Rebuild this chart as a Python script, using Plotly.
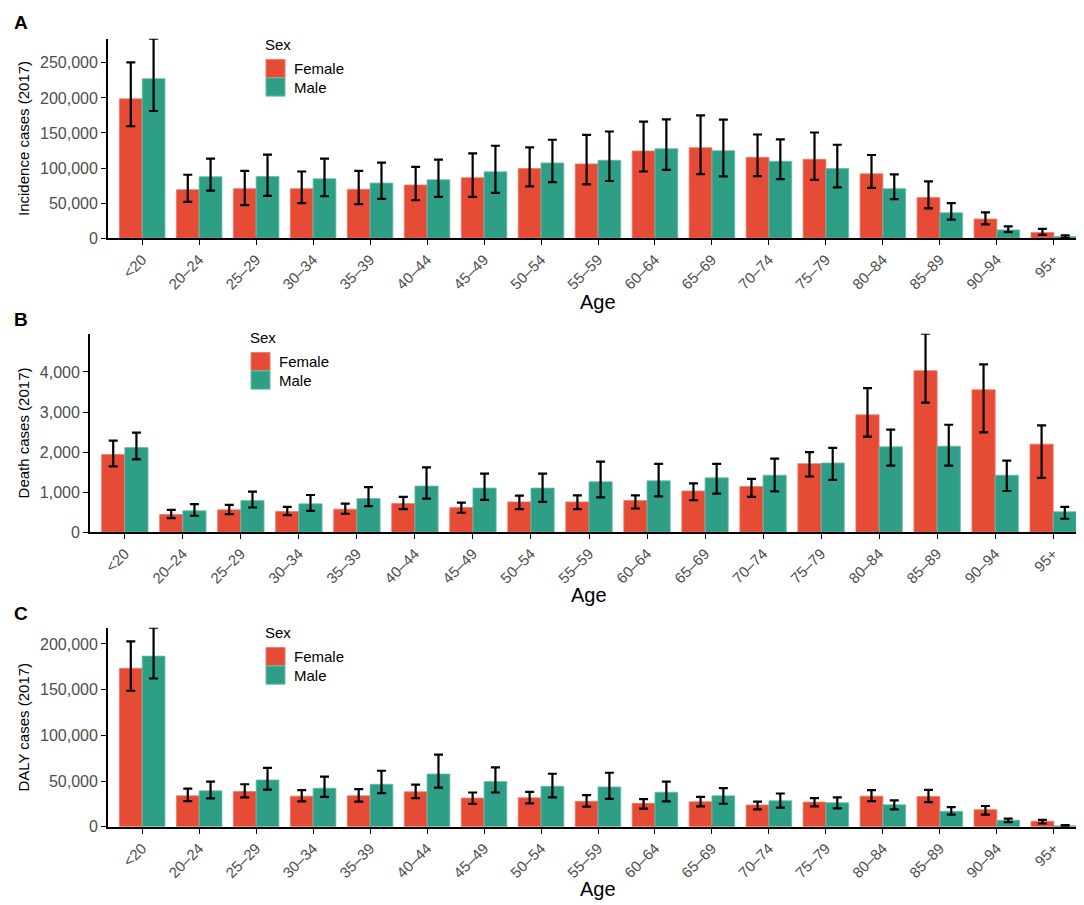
import plotly.graph_objects as go

### DADOS
idades = ["<20", "20–24", "25–29", "30–34", "35–39", "40–44", "45–49", "50–54", "55–59",
          "60–64", "65–69", "70–74", "75–79", "80–84", "85–89", "90–94", "95+"]
sexos = ["Female", "Male"]

# A - incidencia
inc_fem = [198700, 69200, 70600, 70600, 69700, 75800, 86200, 99300, 105900,
           124300, 129000, 115300, 112500, 91800, 57900, 27300, 8000]
inc_fem_low = [159600, 51800, 47100, 49900, 48500, 54100, 58900, 73900, 76700,
               95100, 91300, 88500, 83300, 71600, 42400, 19800, 4700]
inc_fem_up = [250500, 90400, 96000, 95100, 96000, 101700, 121000, 129500, 147400,
              166200, 175100, 147800, 150700, 118600, 81000, 36700, 13200]
inc_mas = [227400, 87600, 88000, 84700, 78600, 83300, 94600, 107300, 111100,
           127600, 124800, 109700, 99300, 70600, 36300, 11800, 2400]
inc_mas_low = [181300, 67800, 60300, 59800, 56000, 58900, 64500, 80000, 81500,
               97500, 88000, 84300, 72500, 55600, 26400, 8500, 500]
inc_mas_up = [284400, 113500, 119100, 113500, 107800, 112000, 131800, 140300, 152100,
              169500, 169000, 140800, 133200, 90900, 49900, 16900, 4200]

# B - mortes
mor_fem = [1942, 444, 560, 519, 576, 716, 617, 757, 757,
           790, 1029, 1144, 1712, 2930, 4033, 3556, 2198]
mor_fem_low = [1646, 354, 453, 428, 461, 576, 486, 576, 576,
               593, 798, 881, 1391, 2387, 3235, 2494, 1358]
mor_fem_up = [2288, 560, 683, 634, 716, 881, 741, 914, 922,
              922, 1218, 1333, 2000, 3597, 4955, 4189, 2667]
mor_mas = [2115, 535, 790, 708, 840, 1152, 1103, 1103, 1259,
           1284, 1358, 1424, 1728, 2132, 2148, 1424, 510]
mor_mas_low = [1819, 412, 617, 535, 650, 840, 807, 757, 872,
               897, 963, 1021, 1309, 1663, 1663, 1029, 337]
mor_mas_up = [2486, 700, 1012, 930, 1128, 1621, 1465, 1465, 1761,
              1704, 1704, 1835, 2107, 2560, 2683, 1786, 634]

# C - DALY
daly_fem = [173400, 33900, 38600, 33500, 33900, 38200, 31400, 31700, 27800,
            25600, 27400, 23800, 27000, 33500, 33200, 18700, 6100]
daly_fem_low = [148800, 28100, 32100, 27800, 27400, 31400, 25200, 25600, 22000,
                19800, 22300, 19100, 22300, 28100, 27000, 13300, 3600]
daly_fem_up = [202900, 41800, 46500, 40000, 41100, 46100, 37500, 38200, 34600,
               30300, 32800, 27400, 31400, 40000, 40400, 22700, 7600]
daly_mas = [186700, 39300, 51200, 42200, 46500, 57700, 49400, 44300, 43600,
            37800, 33900, 28500, 26300, 24100, 16900, 7200, 1100]
daly_mas_low = [162200, 31000, 40700, 32800, 36800, 42900, 37500, 32100, 30600,
                27800, 25200, 20900, 20200, 19100, 13300, 5000, 400]
daly_mas_up = [217700, 49400, 64500, 54800, 61300, 78900, 64900, 58000, 59100,
               49400, 42200, 36400, 32100, 28800, 21600, 9000, 1800]

yticks_inc = [0, 50000, 100000, 150000, 200000, 250000]
yticks_mor = [0, 1000, 2000, 3000, 4000]
yticks_daly = [0, 50000, 100000, 150000, 200000]

CORES = ["#E64B35", "#2E9F86"]
BORDAS = ["#EE7A69", "#6CBBA9"]
FONTE = "Arial, Liberation Sans, sans-serif"
W, H = 1084, 905

paineis = [
    ("A", "Incidence cases (2017)", yticks_inc,
     [(inc_fem, inc_fem_low, inc_fem_up), (inc_mas, inc_mas_low, inc_mas_up)]),
    ("B", "Death cases (2017)", yticks_mor,
     [(mor_fem, mor_fem_low, mor_fem_up), (mor_mas, mor_mas_low, mor_mas_up)]),
    ("C", "DALY cases (2017)", yticks_daly,
     [(daly_fem, daly_fem_low, daly_fem_up), (daly_mas, daly_mas_low, daly_mas_up)]),
]

# posicoes em pixels: eixo y (x), topo, base; legenda (x, y do titulo)
eixo_x = [100, 82, 100]
topo = [31, 329, 626]
base = [232.5, 529.5, 827]
leg_px = [(257, 37), (242, 333), (257, 631)]
letra_px = [15, 315, 612]
age_px = [297, 593, 890]

px = lambda x: x / W
py = lambda y: 1 - y / H

fig = go.Figure()
layout = {}
shapes = []
for i, (letra, ytitulo, yticks, series) in enumerate(paineis):
    n = "" if i == 0 else str(i + 1)
    for nome, (v, lo, up), cor, borda in zip(sexos, series, CORES, BORDAS):
        fig.add_trace(go.Bar(
            x=idades, y=v, name=nome, showlegend=False,
            xaxis="x" + n, yaxis="y" + n,
            marker=dict(color=cor, line=dict(color=borda, width=0.8)),
            error_y=dict(type="data", symmetric=False,
                         array=[u - a for u, a in zip(up, v)],
                         arrayminus=[a - l for a, l in zip(v, lo)],
                         color="black", thickness=2.2, width=4.5),
        ))
    ymax = max(max(s[2]) for s in series)
    layout["xaxis" + n] = dict(
        domain=[px(eixo_x[i]), px(1080)], anchor="y" + n, type="category",
        range=[-0.6, len(idades) - 0.4], tickangle=-45,
        showline=True, linecolor="black", linewidth=1.8,
        ticks="outside", ticklen=5, tickwidth=1.2, tickcolor="black",
        tickfont=dict(size=15, color="#4D4D4D", family=FONTE),
        showgrid=False, zeroline=False,
    )
    layout["yaxis" + n] = dict(
        domain=[py(base[i]), py(topo[i])], anchor="x" + n, range=[0, ymax],
        tickvals=yticks, tickformat=",",
        showline=True, linecolor="black", linewidth=1.8,
        ticks="outside", ticklen=5, tickwidth=1.2, tickcolor="black",
        tickfont=dict(size=16, color="#4D4D4D", family=FONTE),
        title=dict(text=ytitulo, font=dict(size=15, color="black", family=FONTE), standoff=7),
        showgrid=False, zeroline=False,
    )

    # legenda "Sex" desenhada a mao (chaves grandes empilhadas como no ggplot)
    lx, ly = leg_px[i]
    fig.add_annotation(text="Sex", xref="paper", yref="paper", x=px(lx - 2), y=py(ly),
                       xanchor="left", yanchor="middle", showarrow=False,
                       font=dict(size=15, color="black", family=FONTE))
    for k, (nome, cor, borda) in enumerate(zip(sexos, CORES, BORDAS)):
        y0 = ly + 15 + k * 18.5
        shapes.append(dict(type="rect", xref="paper", yref="paper",
                           x0=px(lx + 1), x1=px(lx + 20), y0=py(y0 + 18.5), y1=py(y0),
                           fillcolor=cor, line=dict(color=borda, width=1)))
        fig.add_annotation(text=nome, xref="paper", yref="paper", x=px(lx + 27),
                           y=py(y0 + 9.5), xanchor="left", yanchor="middle", showarrow=False,
                           font=dict(size=15, color="black", family=FONTE))

    fig.add_annotation(text="<b>%s</b>" % letra, xref="paper", yref="paper",
                       x=px(4), y=py(letra_px[i]), xanchor="left", yanchor="middle",
                       showarrow=False, font=dict(size=19, color="black", family=FONTE))
    fig.add_annotation(text="Age", xref="paper", yref="paper",
                       x=px((eixo_x[i] + 1080) / 2), y=py(age_px[i]),
                       xanchor="center", yanchor="middle", showarrow=False,
                       font=dict(size=20, color="black", family=FONTE))

fig.update_layout(
    width=W, height=H,
    margin=dict(l=0, r=0, t=0, b=0),
    paper_bgcolor="white", plot_bgcolor="white",
    barmode="group", bargap=0.2, bargroupgap=0,
    font=dict(family=FONTE),
    shapes=shapes,
    **layout,
)

fig.write_html("out.html")
